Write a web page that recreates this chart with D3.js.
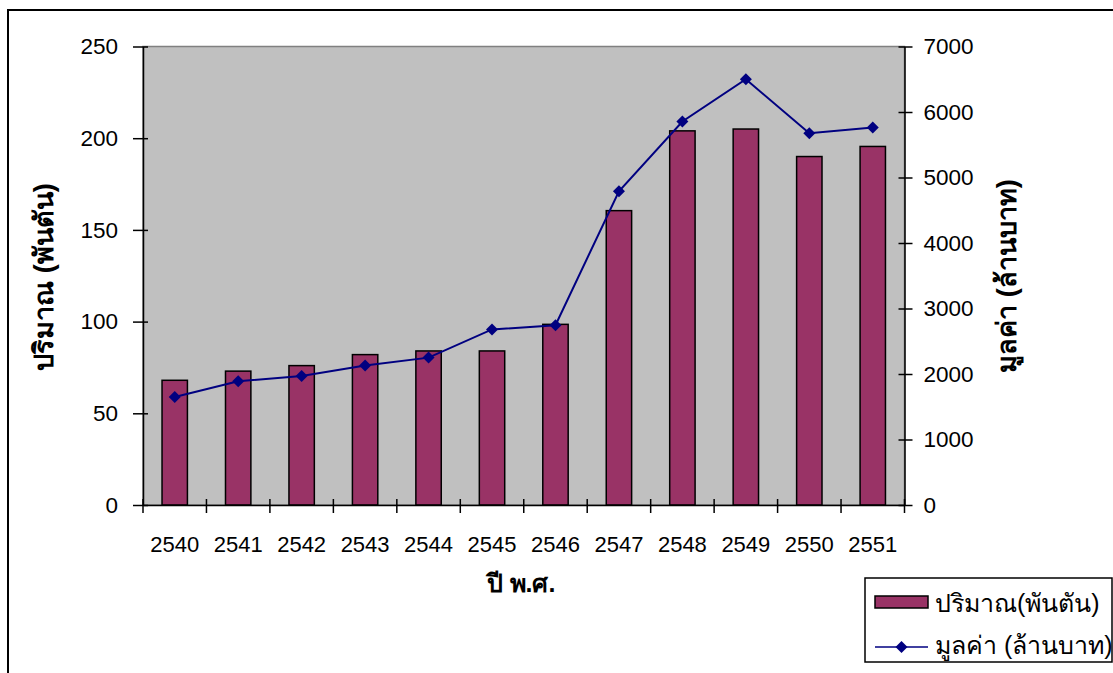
<!DOCTYPE html>
<html>
<head>
<meta charset="utf-8">
<script src="https://cdn.jsdelivr.net/npm/d3@7"></script>
<style>
  html, body { margin: 0; padding: 0; background: #fff; }
  svg { display: block; }
  text { font-family: "Liberation Sans", Arial, sans-serif; fill: #000; }
</style>
</head>
<body>
<svg id="chart" width="1113" height="673"></svg>
<script>
const years = ["2540","2541","2542","2543","2544","2545","2546","2547","2548","2549","2550","2551"];
const quantity = [68, 73, 76, 82, 84, 84, 98.5, 160.5, 204, 205, 190, 195.5];
const value = [1650, 1890, 1970, 2130, 2250, 2680, 2745, 4790, 5855, 6500, 5675, 5765];
const leftTicks = [0, 50, 100, 150, 200, 250];
const rightTicks = [0, 1000, 2000, 3000, 4000, 5000, 6000, 7000];
const titles = { x: "ปี พ.ศ.", yLeft: "ปริมาณ (พันตัน)", yRight: "มูลค่า (ล้านบาท)" };
const legendLabels = ["ปริมาณ(พันตัน)", "มูลค่า (ล้านบาท)"];

const svg = d3.select("#chart");
const plot = { left: 143, right: 904.5, top: 46.5, bottom: 505 };
const fs = 22.5;
const tfs = 27;

// outer border
svg.append("rect").attr("x", 8).attr("y", 10).attr("width", 1200).attr("height", 800)
  .attr("fill", "none").attr("stroke", "#000").attr("stroke-width", 2);

const xc = d3.scaleBand().domain(years).range([plot.left, plot.right]);
const yL = d3.scaleLinear().domain([0, 250]).range([plot.bottom, plot.top]);
const yR = d3.scaleLinear().domain([0, 7000]).range([plot.bottom, plot.top]);
const cx = d => xc(d) + xc.bandwidth() / 2;
const barW = xc.bandwidth() / 2.5;

// plot background
svg.append("rect").attr("x", plot.left).attr("y", plot.top)
  .attr("width", plot.right - plot.left).attr("height", plot.bottom - plot.top)
  .attr("fill", "#C0C0C0").attr("stroke", "#808080").attr("stroke-width", 1.5);

// bars
svg.append("g").selectAll("rect").data(quantity).join("rect")
  .attr("x", (d, i) => cx(years[i]) - barW / 2)
  .attr("width", barW)
  .attr("y", d => yL(d))
  .attr("height", d => yL(0) - yL(d))
  .attr("fill", "#993366").attr("stroke", "#000").attr("stroke-width", 1.5);

// axes
const axL = svg.append("g").attr("transform", `translate(${plot.left},0)`)
  .call(d3.axisLeft(yL).tickValues(leftTicks).tickSize(10).tickSizeOuter(0).tickPadding(15).tickFormat(d3.format("d")));
const axR = svg.append("g").attr("transform", `translate(${plot.right},0)`)
  .call(d3.axisRight(yR).tickValues(rightTicks).tickSize(8).tickSizeOuter(0).tickPadding(11).tickFormat(d3.format("d")));
const axB = svg.append("g").attr("transform", `translate(0,${plot.bottom})`)
  .call(d3.axisBottom(xc).tickValues([]).tickSizeOuter(0));

[axL, axR, axB].forEach(g => {
  g.attr("font-size", null).attr("font-family", null);
  g.selectAll("path").attr("stroke", "#000").attr("stroke-width", 1.5);
  g.selectAll("line").attr("stroke", "#000").attr("stroke-width", 1.5);
  g.selectAll("text").attr("font-size", fs);
});
// crossing tick marks
axL.selectAll(".tick line").attr("x1", 5).attr("x2", -10);
axR.selectAll(".tick line").attr("x1", -6).attr("x2", 8);

// bottom ticks at category boundaries (crossing)
svg.append("g").selectAll("line").data(d3.range(years.length + 1)).join("line")
  .attr("x1", i => plot.left + i * xc.step()).attr("x2", i => plot.left + i * xc.step())
  .attr("y1", plot.bottom - 6).attr("y2", plot.bottom + 8)
  .attr("stroke", "#000").attr("stroke-width", 1.5);
// year labels
svg.append("g").selectAll("text").data(years).join("text")
  .attr("x", d => cx(d)).attr("y", 552)
  .attr("text-anchor", "middle").attr("font-size", 22).text(d => d);

// line
const line = d3.line().x((d, i) => cx(years[i])).y(d => yR(d));
svg.append("path").datum(value).attr("d", line)
  .attr("fill", "none").attr("stroke", "#000080").attr("stroke-width", 2);
svg.append("g").selectAll("path").data(value).join("path")
  .attr("d", d3.symbol().type(d3.symbolSquare).size(72))
  .attr("transform", (d, i) => `translate(${cx(years[i])},${yR(d)}) rotate(45)`)
  .attr("fill", "#000080");

// titles
svg.append("text").attr("x", 521).attr("y", 592).attr("text-anchor", "middle")
  .attr("font-size", 25).attr("font-weight", "bold").text(titles.x);
svg.append("text").attr("transform", "translate(53,277) rotate(-90)").attr("text-anchor", "middle")
  .attr("font-size", tfs).attr("font-weight", "bold").text(titles.yLeft);
svg.append("text").attr("transform", "translate(1016,276) rotate(-90)").attr("text-anchor", "middle")
  .attr("font-size", tfs).attr("font-weight", "bold").text(titles.yRight);

// legend
const lg = svg.append("g");
lg.append("rect").attr("x", 865).attr("y", 578).attr("width", 247).attr("height", 84)
  .attr("fill", "#fff").attr("stroke", "#000").attr("stroke-width", 1.5);
lg.append("rect").attr("x", 875).attr("y", 596).attr("width", 53).attr("height", 12)
  .attr("fill", "#993366").attr("stroke", "#000").attr("stroke-width", 1.5);
lg.append("text").attr("x", 935).attr("y", 612).attr("font-size", 25).text(legendLabels[0]);
lg.append("line").attr("x1", 875).attr("x2", 928).attr("y1", 647).attr("y2", 647)
  .attr("stroke", "#000080").attr("stroke-width", 1.5);
lg.append("path").attr("transform", "translate(901.5,647) rotate(45)")
  .attr("d", d3.symbol().type(d3.symbolSquare).size(72)).attr("fill", "#000080");
lg.append("text").attr("x", 935).attr("y", 654).attr("font-size", 25).text(legendLabels[1]);
</script>
</body>
</html>
